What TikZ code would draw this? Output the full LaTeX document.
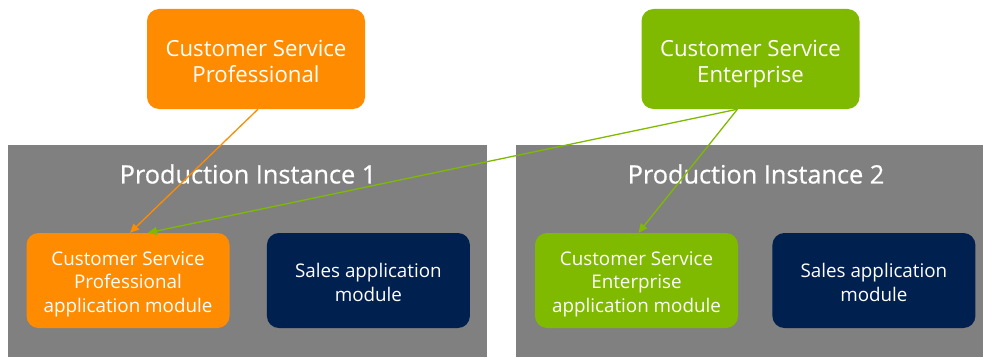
\documentclass[tikz,border=0pt]{standalone}
\usepackage{fontspec}
\setmainfont{Open Sans}
\newfontfamily\titlefont[FakeBold=0.7]{Open Sans}
\usepackage{xcolor}
\usepackage{tikz}
\usetikzlibrary{positioning, arrows.meta}

\definecolor{csorange}{HTML}{FF8C00}
\definecolor{csgreen}{HTML}{7FBA00}
\definecolor{salesblue}{HTML}{002050}
\definecolor{panelgray}{HTML}{808080}

\tikzset{
	box/.style = {rectangle, rounded corners = 12pt, text = white, align = center, inner sep = 0pt, text depth = 0pt},
	topbox/.style = {box, minimum width = 218pt, minimum height = 100pt, text height = 48pt, font = \fontsize{22.2}{27}\selectfont},
	modbox/.style = {box, minimum width = 203pt, minimum height = 95pt, text height = 63.5pt, font = \fontsize{18.8}{23.5}\selectfont},
	salesbox/.style = {modbox, fill = salesblue, text height = 41.8pt},
	panel/.style = {rectangle, fill = panelgray, inner sep = 0pt, minimum height = 212pt},
	paneltitle/.style = {text = white, font = \titlefont\fontsize{25.3}{28}\selectfont},
	line/.style = {draw, line width = 1.3pt, -{Triangle[length = 9pt, width = 8pt]}}
}

\begin{document}
\begin{tikzpicture}[x = 1pt, y = 1pt, node distance = 1cm, auto]
			\useasboundingbox (0,0) rectangle (983,357);
			% production instances
			\node [panel, minimum width = 479pt] (inst1) at (247.5,106) {};
			\node [panel, minimum width = 467pt] (inst2) at (749.5,106) {};
			\node [paneltitle] (title1) at (248,183) {Production Instance 1};
			\node [paneltitle] (title2) at (756,183) {Production Instance 2};
			% offerings
			\node [topbox, fill = csorange] (cspro) at (256,298) {Customer Service\\Professional};
			\node [topbox, fill = csgreen] (csent) at (750.5,298) {Customer Service\\Enterprise};
			% application modules
			\node [modbox, fill = csorange] (cspromod) at (128,76.5) {Customer Service\\Professional\\application module};
			\node [salesbox, right = 37pt of cspromod] (sales1) {Sales application\\module};
			\node [modbox, fill = csgreen] (csentmod) at (636.5,76.5) {Customer Service\\Enterprise\\application module};
			\node [salesbox, right = 34pt of csentmod] (sales2) {Sales application\\module};
			\coordinate (entout) at ([xshift = -13pt]csent.south);
			\path [line, draw = csorange] ([xshift = 2pt]cspro.south) -- ([xshift = 2pt]cspromod.north);
			\path [line, draw = csgreen] (entout) -- ([xshift = 20pt]cspromod.north);
			\path [line, draw = csgreen] (entout) -- ([xshift = 2pt]csentmod.north);
		\end{tikzpicture}
\end{document}
